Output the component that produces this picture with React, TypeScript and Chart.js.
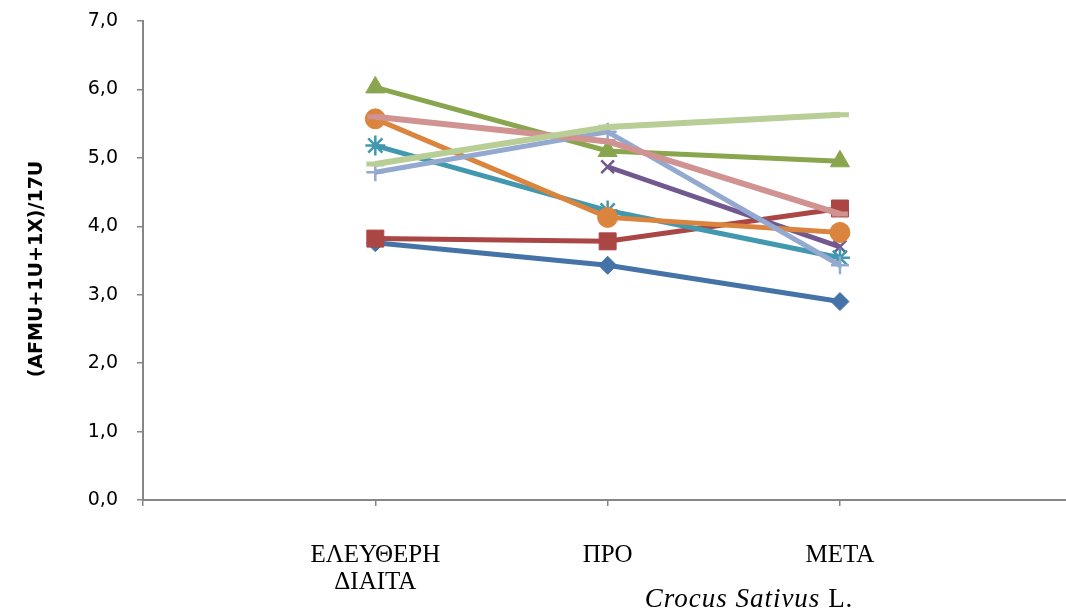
import React, { useEffect, useRef } from "react";
import { Chart, registerables } from "chart.js";

Chart.register(...registerables);

const categories: (string | string[])[] = [["ΕΛΕΥΘΕΡΗ", "ΔΙΑΙΤΑ"], "ΠΡΟ", "ΜΕΤΑ"];
const yTicks = [0, 1, 2, 3, 4, 5, 6, 7];
const yTitle = "(AFMU+1U+1X)/17U";
const xTitleItalic = "Crocus Sativus";
const xTitleNormal = " L.";

const series1 = [3.76, 3.43, 2.9];
const series2 = [3.82, 3.78, 4.26];
const series3 = [6.03, 5.1, 4.95];
const series4 = [null, 4.87, 3.7];
const series5 = [5.18, 4.23, 3.54];
const series6 = [5.57, 4.13, 3.91];
const series7 = [4.79, 5.38, 3.43];
const series8 = [5.6, 5.24, 4.18];
const series9 = [4.91, 5.45, 5.63];

const seriesList = [series1, series2, series3, series4, series5, series6, series7, series8, series9];
const colors = ["#4572A7", "#AA4643", "#89A54E", "#71588F", "#4198AF", "#DB843D", "#93A9CF", "#D19392", "#B9CD96"];
const styles: any[] = ["rectRot", "rect", "triangle", "crossRot", "star", "circle", "cross", "line", "line"];
const radii = [9, 12, 11, 9, 10, 10, 9, 8, 9];
const pointBorders = [1, 1, 1, 2.5, 2.5, 1, 2.5, 5, 5];

const textPlugin = {
  id: "customText",
  afterDraw(chart: any) {
    const ctx = chart.ctx;
    ctx.save();
    ctx.translate(37, 269);
    ctx.rotate(-Math.PI / 2);
    ctx.font = "bold 19px 'DejaVu Sans'";
    ctx.fillStyle = "#000";
    ctx.textAlign = "center";
    ctx.textBaseline = "middle";
    ctx.fillText(yTitle, 0, 0);
    ctx.restore();

    ctx.save();
    ctx.fillStyle = "#000";
    ctx.textBaseline = "alphabetic";
    ctx.textAlign = "left";
    try {
      (ctx as any).letterSpacing = "1px";
    } catch (e) {}
    ctx.font = "italic 27px 'Liberation Serif'";
    const w1 = ctx.measureText(xTitleItalic).width;
    ctx.font = "27px 'Liberation Serif'";
    const w2 = ctx.measureText(xTitleNormal).width;
    const start = 749 - (w1 + w2) / 2;
    ctx.font = "italic 27px 'Liberation Serif'";
    ctx.fillText(xTitleItalic, start, 607);
    ctx.font = "27px 'Liberation Serif'";
    ctx.fillText(xTitleNormal, start + w1, 607);
    ctx.restore();
  },
};

export default function App() {
  const ref = useRef<HTMLCanvasElement>(null);
  useEffect(() => {
    if (!ref.current) return;
    const datasets = seriesList.map((s, i) => ({
      label: "Series " + (i + 1),
      data: s.map((v, j) => (v === null ? null : { x: j + 1, y: v })).filter((p) => p !== null),
      borderColor: colors[i],
      backgroundColor: colors[i],
      pointBackgroundColor: colors[i],
      pointBorderColor: colors[i],
      pointStyle: styles[i],
      pointRadius: radii[i],
      pointBorderWidth: pointBorders[i],
      borderWidth: i >= 7 ? 6 : 5,
      tension: 0,
      order: 20 - i,
    }));
    const chart = new Chart(ref.current, {
      type: "line",
      data: { datasets: datasets as any },
      plugins: [textPlugin],
      options: {
        animation: false,
        responsive: true,
        maintainAspectRatio: false,
        layout: { autoPadding: false, padding: { top: 21, right: 0, left: 0, bottom: 0 } },
        plugins: { legend: { display: false }, tooltip: { enabled: false } },
        scales: {
          x: {
            type: "linear",
            min: 0,
            max: 3.973,
            afterBuildTicks: (scale: any) => {
              scale.ticks = [0, 1, 2, 3].map((v) => ({ value: v }));
            },
            afterFit: (scale: any) => {
              scale.height = 112;
              scale.paddingRight = 0;
              scale.paddingLeft = 0;
            },
            grid: { drawOnChartArea: false, drawTicks: true, tickLength: 6, color: "#868686", lineWidth: 1.5 },
            border: { color: "#868686", width: 2 },
            ticks: {
              autoSkip: false,
              maxRotation: 0,
              padding: 36,
              color: "#000",
              font: { family: "'Liberation Serif'", size: 25, lineHeight: 1.08 },
              callback: (v: any) => {
                const i = Math.round(Number(v)) - 1;
                return i >= 0 && i < categories.length ? (categories[i] as any) : "";
              },
            },
          },
          y: {
            min: 0,
            max: 7,
            afterBuildTicks: (scale: any) => {
              scale.ticks = yTicks.map((v) => ({ value: v }));
            },
            afterFit: (scale: any) => {
              scale.width = 143;
              scale.paddingTop = 0;
              scale.paddingBottom = 0;
            },
            grid: { drawOnChartArea: false, drawTicks: true, tickLength: 6, color: "#868686", lineWidth: 1.5 },
            border: { color: "#868686", width: 2 },
            ticks: {
              padding: 19,
              color: "#000",
              font: { family: "'DejaVu Sans'", size: 19 },
              callback: (v: any) => Number(v).toFixed(1).replace(".", ","),
            },
          },
        },
      },
    });
    return () => chart.destroy();
  }, []);
  return (
    <div style={{ position: "fixed", left: 0, top: 0, width: 1066, height: 612, background: "#fff" }}>
      <canvas ref={ref} />
    </div>
  );
}
